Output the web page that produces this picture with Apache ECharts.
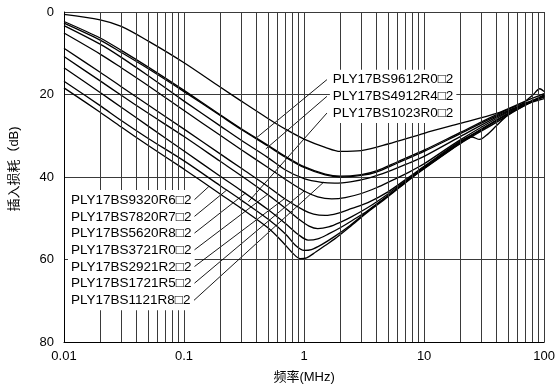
<!DOCTYPE html>
<html>
<head>
<meta charset="utf-8">
<script src="https://cdn.jsdelivr.net/npm/echarts@6/dist/echarts.min.js"></script>
<style>
  html, body { margin: 0; padding: 0; background: #fff; }
  #chart { width: 558px; height: 389px; }
</style>
</head>
<body>
<div id="chart"></div>
<script>
// Insertion loss curves: [frequency in MHz, loss in dB]
const curve4912R4 = [[0.01,0.6],[0.02,1.9],[0.03,3.5],[0.05,7.0],[0.1,12.3],[0.2,18.2],[0.3,21.6],[0.5,25.8],[0.7,28.4],[1,30.8],[1.5,32.8],[2,33.8],[3,33.6],[5,32.0],[10,29.4],[20,27.0],[40,24.6],[70,21.6],[100,19.8]];
const curve1023R0 = [[0.01,2.3],[0.02,6.3],[0.03,9.3],[0.05,13.3],[0.1,19.0],[0.2,24.9],[0.3,28.3],[0.5,32.3],[0.7,35.0],[1,37.5],[1.5,39.3],[2,39.8],[3,39.4],[4,38.5],[6,36.3],[10,33.5],[20,29.2],[50,23.6],[100,20.6]];
const curve9612R0 = [[0.01,2.7],[0.02,6.8],[0.03,9.8],[0.05,13.7],[0.1,19.3],[0.2,25.1],[0.3,28.5],[0.5,32.5],[0.7,35.2],[1,37.7],[1.5,39.5],[2,40.0],[3,39.6],[4,38.8],[6,36.6],[10,33.8],[20,29.5],[50,23.9],[100,21.0]];
const curve1121R8 = [[0.01,3.3],[0.02,7.8],[0.03,11.0],[0.05,15.4],[0.1,21.6],[0.2,27.6],[0.3,31.1],[0.5,35.3],[0.7,38.3],[1,40.4],[1.4,41.3],[1.8,41.5],[2.5,41.1],[3.5,40.2],[5,38.7],[7.5,36.6],[10,35.0],[20,30.2],[50,24.1],[100,20.6]];
const curve1721R5 = [[0.01,5.1],[0.02,10.2],[0.03,13.5],[0.05,17.8],[0.1,23.9],[0.2,29.9],[0.3,33.4],[0.5,37.7],[0.7,40.6],[1,43.4],[1.3,44.8],[1.7,45.3],[2.2,45.0],[3,44.0],[4,42.6],[5,41.3],[7.5,38.8],[10,36.8],[20,31.0],[50,24.3],[100,20.4]];
const curve2921R2 = [[0.01,8.8],[0.02,14.6],[0.03,18.1],[0.05,22.5],[0.1,28.4],[0.2,34.4],[0.3,37.9],[0.5,42.3],[0.7,45.4],[1,48.1],[1.2,49.0],[1.5,49.3],[1.9,48.8],[2.5,47.6],[3.4,46.2],[5,43.6],[7.5,40.0],[10,37.4],[20,31.3],[30,28.6],[50,24.6],[100,20.3]];
const curve3721R0 = [[0.01,10.8],[0.02,16.7],[0.03,20.2],[0.05,24.5],[0.1,30.2],[0.2,36.2],[0.3,39.7],[0.5,44.3],[0.7,47.6],[0.9,50.2],[1.1,51.9],[1.3,52.5],[1.6,52.1],[2,51.0],[2.5,49.6],[3.4,47.4],[5,44.1],[7.5,40.3],[10,37.6],[20,31.5],[50,24.6],[100,20.1]];
const curve5620R8 = [[0.01,13.5],[0.02,19.5],[0.03,23.1],[0.05,27.6],[0.1,33.7],[0.2,39.8],[0.3,43.3],[0.5,47.9],[0.7,51.3],[0.9,54.0],[1.08,55.3],[1.3,55.0],[1.6,53.8],[2,52.3],[2.5,50.6],[3.4,48.1],[5,44.5],[7.5,40.5],[10,37.8],[20,31.7],[50,24.8],[100,20.3]];
const curve7820R7 = [[0.01,16.8],[0.02,22.7],[0.03,26.3],[0.05,30.6],[0.1,36.1],[0.2,42.1],[0.3,45.6],[0.5,50.2],[0.7,53.8],[0.85,56.6],[1.0,57.8],[1.15,57.6],[1.4,56.4],[1.8,54.4],[2.4,51.8],[3.4,48.3],[5,44.6],[7.5,40.6],[10,37.9],[20,31.8],[25,30.3],[29,30.9],[33,29.9],[40,27.6],[50,25.0],[100,20.2]];
const curve9320R6 = [[0.01,18.4],[0.02,24.3],[0.03,27.9],[0.05,32.3],[0.1,38.1],[0.2,44.1],[0.3,47.6],[0.5,52.3],[0.65,55.5],[0.8,58.4],[0.93,59.8],[1.05,59.6],[1.25,58.2],[1.5,56.6],[1.8,55.0],[2.4,52.1],[3.4,48.5],[5,44.8],[7.5,40.7],[10,38.0],[20,31.9],[50,25.0],[80,20.2],[92,18.6],[100,19.3]];

// Part names, top-right group and bottom-left group (top to bottom)
const upperNames = ['PLY17BS9612R0□2', 'PLY17BS4912R4□2', 'PLY17BS1023R0□2'];
const lowerNames = ['PLY17BS9320R6□2', 'PLY17BS7820R7□2', 'PLY17BS5620R8□2', 'PLY17BS3721R0□2',
                    'PLY17BS2921R2□2', 'PLY17BS1721R5□2', 'PLY17BS1121R8□2'];
const upperCurves = [curve9612R0, curve4912R4, curve1023R0];
const lowerCurves = [curve9320R6, curve7820R7, curve5620R8, curve3721R0, curve2921R2, curve1721R5, curve1121R8];

// Far ends of the leader lines [MHz, dB]
const upperLeaderEnds = [[0.401, 30.5], [0.48, 33.2], [0.344, 46.0]];
const lowerLeaderEnds = [[0.161, 42.3], [0.226, 43.2], [0.325, 43.9], [0.497, 44.2], [0.684, 45.3], [1.0, 43.4], [1.45, 41.3]];

// Axis ticks
const xTickLabels = ['0.01', '0.1', '1', '10', '100'];
const yTicks = [0, 20, 40, 60, 80];
const minorGridFreqs = [0.02,0.03,0.04,0.05,0.06,0.07,0.08,0.09,
                        0.2,0.3,0.4,0.5,0.6,0.7,0.8,0.9,
                        2,3,4,5,6,7,8,9,
                        20,30,40,50,60,70,80,90];

const FONT_LATIN = '"Liberation Sans", Arial, Helvetica, sans-serif';
const FONT_MIXED = '"Liberation Sans", Arial, "Noto Sans CJK SC", sans-serif';
const GRID_COLOR = '#3a3a3a';

// Label block layout (in data units so it follows the axes)
const lowerTextFreq = 0.0108, lowerFirstDb = 45.6, rowDb = 4.05;
const lowerLeaderFreq = 0.121;
const upperTextFreq = 1.64, upperFirstDb = 16.4;
const upperLeaderFreq = 1.55;

const chart = echarts.init(document.getElementById('chart'), null, { renderer: 'canvas' });

const curveSeries = [...upperNames.map((n, i) => [n, upperCurves[i]]),
                     ...lowerNames.map((n, i) => [n, lowerCurves[i]])].map(([name, data]) => ({
  type: 'line', name, data, smooth: 0.3, symbol: 'none', silent: true, z: 3,
  lineStyle: { color: '#000', width: 1.3 }
}));

const leaderSeries = [];
upperLeaderEnds.forEach((end, i) => {
  leaderSeries.push({ type: 'line', symbol: 'none', silent: true, z: 4,
    data: [[upperLeaderFreq, upperFirstDb + i * rowDb], end],
    lineStyle: { color: '#000', width: 0.9 } });
});
lowerLeaderEnds.forEach((end, i) => {
  leaderSeries.push({ type: 'line', symbol: 'none', silent: true, z: 4,
    data: [[lowerLeaderFreq, lowerFirstDb + i * rowDb], end],
    lineStyle: { color: '#000', width: 0.9 } });
});

// 2..9 gridlines inside every decade
const minorGridSeries = {
  type: 'line', symbol: 'none', silent: true, z: 1,
  data: [[0.01, 0]], lineStyle: { opacity: 0 },
  markLine: {
    silent: true, symbol: ['none', 'none'], animation: false,
    label: { show: false },
    lineStyle: { color: GRID_COLOR, width: 1, type: 'solid' },
    data: minorGridFreqs.map(f => ({ xAxis: f }))
  }
};

chart.setOption({
  animation: false,
  backgroundColor: '#fff',
  grid: { left: 64, right: 10, top: 12, bottom: 45, containLabel: false },
  xAxis: {
    type: 'log', logBase: 10, min: 0.01, max: 100,
    name: '频率(MHz)', nameLocation: 'middle', nameGap: 29,
    nameTextStyle: { color: '#000', fontSize: 13, fontFamily: FONT_MIXED },
    axisLine: { show: true, onZero: false, lineStyle: { color: '#000', width: 1 } },
    axisTick: { show: false },
    axisLabel: {
      color: '#000', fontSize: 13, fontFamily: FONT_LATIN, margin: 8,
      formatter: v => xTickLabels[Math.round(Math.log10(v)) + 2]
    },
    splitLine: { show: true, lineStyle: { color: GRID_COLOR, width: 1 } },
    minorTick: { show: false }, minorSplitLine: { show: false }
  },
  yAxis: {
    type: 'value', inverse: true, min: yTicks[0], max: yTicks[yTicks.length - 1], interval: 20,
    name: '插入损耗（dB)', nameLocation: 'middle', nameGap: 43, nameRotate: 90,
    nameTextStyle: { color: '#000', fontSize: 13, fontFamily: FONT_MIXED, padding: [0, 0, 0, 16] },
    axisLine: { show: true, lineStyle: { color: '#000', width: 1 } },
    axisTick: { show: false },
    axisLabel: { color: '#000', fontSize: 13, fontFamily: FONT_LATIN, margin: 10 },
    splitLine: { show: true, lineStyle: { color: GRID_COLOR, width: 1 } }
  },
  series: [minorGridSeries, ...curveSeries, ...leaderSeries]
});

// Part-name labels on white boxes, placed through the axes
const toPx = p => chart.convertToPixel({ xAxisIndex: 0, yAxisIndex: 0 }, p);
const labelStyle = text => ({
  text, font: '13.5px ' + FONT_LATIN, fill: '#000',
  backgroundColor: '#fff', padding: [3, 3, 3, 3],
  align: 'left', verticalAlign: 'middle'
});
const graphics = [];
upperNames.forEach((name, i) => {
  const [x, y] = toPx([upperTextFreq, upperFirstDb + i * rowDb]);
  graphics.push({ type: 'text', x, y, z: 20, silent: true, style: labelStyle(name) });
});
lowerNames.forEach((name, i) => {
  const [x, y] = toPx([lowerTextFreq, lowerFirstDb + i * rowDb]);
  graphics.push({ type: 'text', x, y, z: 20, silent: true, style: labelStyle(name) });
});
chart.setOption({ graphic: graphics });
</script>
</body>
</html>
